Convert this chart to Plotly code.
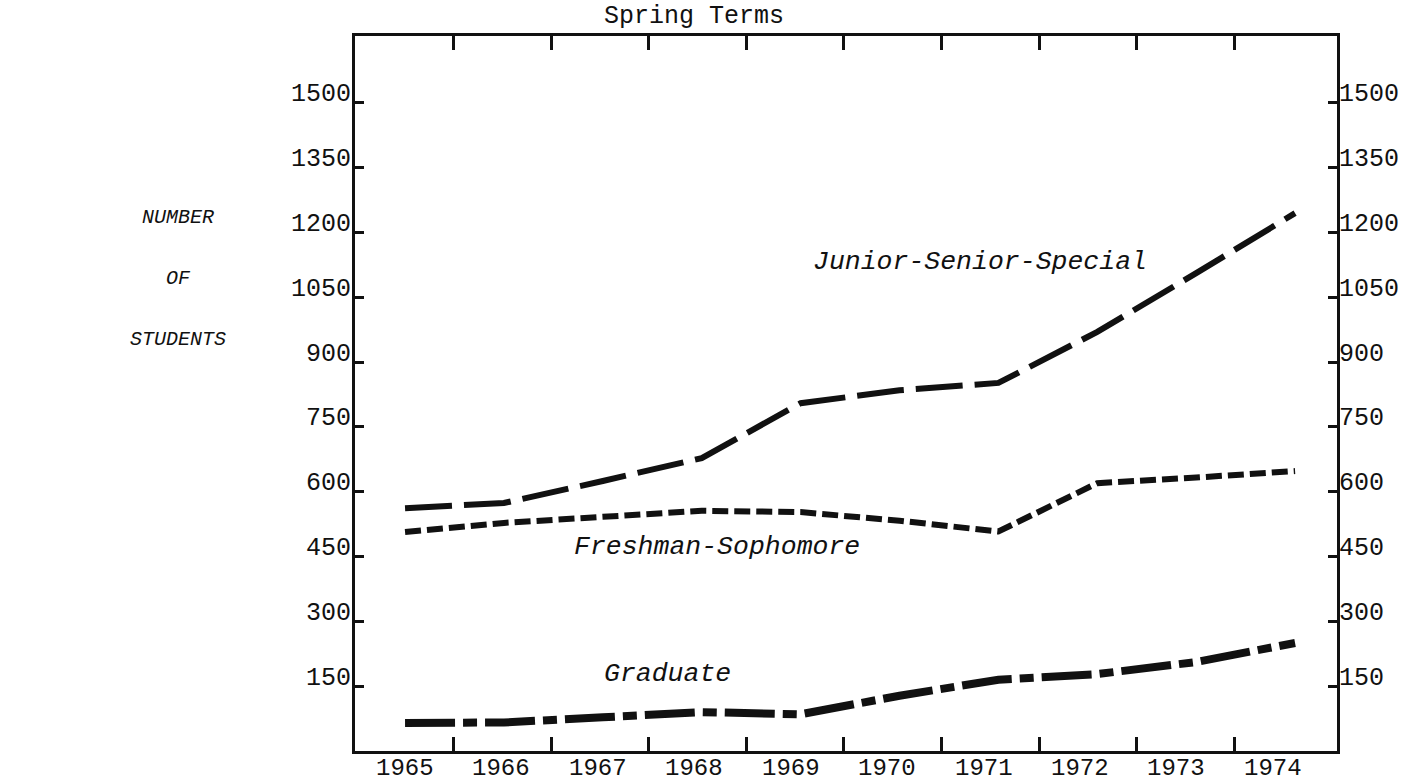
import plotly.graph_objects as go

# ---- data ----
years = [1965, 1966, 1967, 1968, 1969, 1970, 1971, 1972, 1973, 1974]
junior_senior_special = [562, 574, 625, 678, 805, 835, 852, 970, 1106, 1245]
freshman_sophomore = [507, 528, 542, 556, 553, 533, 508, 620, 633, 648]
graduate = [65, 66, 78, 90, 85, 128, 165, 178, 206, 250]

y_tick_values = [150, 300, 450, 600, 750, 900, 1050, 1200, 1350, 1500]
year_labels = ["1965", "1966", "1967", "1968", "1969", "1970", "1971", "1972", "1973", "1974"]

# ---- layout constants (hand-drawn axis spacing) ----
X_RANGE = [1964.494, 1974.424]
Y_RANGE = [0, 1655]
label_pos = [1965 + i * 0.975 for i in range(len(year_labels))]
tick_pos = [1965.49 + j * 0.987 for j in range(len(year_labels) - 1)]

MONO = "Liberation Mono"
INK = "#111111"

fig = go.Figure()
fig.add_trace(go.Scatter(
    x=years, y=junior_senior_special, mode="lines", name="Junior-Senior-Special",
    line=dict(color=INK, width=6, dash="47px,12px"), showlegend=False))
fig.add_trace(go.Scatter(
    x=years, y=freshman_sophomore, mode="lines", name="Freshman-Sophomore",
    line=dict(color=INK, width=6, dash="16px,6px"), showlegend=False))
fig.add_trace(go.Scatter(
    x=years, y=graduate, mode="lines", name="Graduate",
    line=dict(color=INK, width=8, dash="50px,8px,14px,8px"), showlegend=False))

annotations = []
# y tick labels, both sides (baseline near the tick, as typed)
for v in y_tick_values:
    annotations.append(dict(x=0, xref="paper", y=v, yref="y", text=str(v),
                            xanchor="right", yanchor="middle", xshift=-2, yshift=8,
                            showarrow=False, font=dict(family=MONO, size=25, color=INK)))
    annotations.append(dict(x=1, xref="paper", y=v, yref="y", text=str(v),
                            xanchor="left", yanchor="middle", xshift=0, yshift=8,
                            showarrow=False, font=dict(family=MONO, size=25, color=INK)))

# year labels under the bottom axis
for pos, lab in zip(label_pos, year_labels):
    annotations.append(dict(x=pos, xref="x", y=0, yref="paper", text=lab,
                            xanchor="center", yanchor="middle", yshift=-17, borderpad=0,
                            showarrow=False, font=dict(family=MONO, size=24, color=INK)))

# series labels
annotations += [
    dict(x=1970.81, y=1132, xref="x", yref="y", text="<i>Junior-Senior-Special</i>",
         showarrow=False, font=dict(family=MONO, size=26.5, color=INK)),
    dict(x=1968.15, y=472, xref="x", yref="y", text="<i>Freshman-Sophomore</i>",
         showarrow=False, font=dict(family=MONO, size=26.5, color=INK)),
    dict(x=1967.65, y=178, xref="x", yref="y", text="<i>Graduate</i>",
         showarrow=False, font=dict(family=MONO, size=26.5, color=INK)),
]
# title
annotations.append(dict(x=0.345, y=1, xref="paper", yref="paper", text="Spring Terms",
                        xanchor="center", yanchor="bottom", yshift=3, showarrow=False,
                        font=dict(family=MONO, size=25, color=INK)))
# y axis title, stacked
for txt, yp in [("NUMBER", 0.746), ("OF", 0.661), ("STUDENTS", 0.575)]:
    annotations.append(dict(x=-0.180, y=yp, xref="paper", yref="paper", text=f"<i>{txt}</i>",
                            xanchor="center", yanchor="middle", showarrow=False,
                            font=dict(family=MONO, size=20, color=INK)))

fig.update_layout(
    width=1420, height=783,
    margin=dict(l=355, r=83, t=36, b=32, autoexpand=False),
    paper_bgcolor="white", plot_bgcolor="white",
    annotations=annotations,
    hovermode=False,
    xaxis=dict(
        range=X_RANGE, showgrid=False, zeroline=False, automargin=False,
        showline=True, linecolor=INK, linewidth=2.5, mirror="ticks",
        tickmode="array", tickvals=tick_pos, ticks="inside",
        ticklen=14, tickwidth=2.5, tickcolor=INK, showticklabels=False,
    ),
    yaxis=dict(
        range=Y_RANGE, showgrid=False, zeroline=False, automargin=False,
        showline=True, linecolor=INK, linewidth=2.5, mirror="ticks",
        tickmode="array", tickvals=y_tick_values, ticks="inside",
        ticklen=9, tickwidth=2.5, tickcolor=INK, showticklabels=False,
    ),
)

fig.write_html("out.html",
               config={"displayModeBar": False},
               post_script="document.body.style.margin='0';document.body.style.padding='0';")
